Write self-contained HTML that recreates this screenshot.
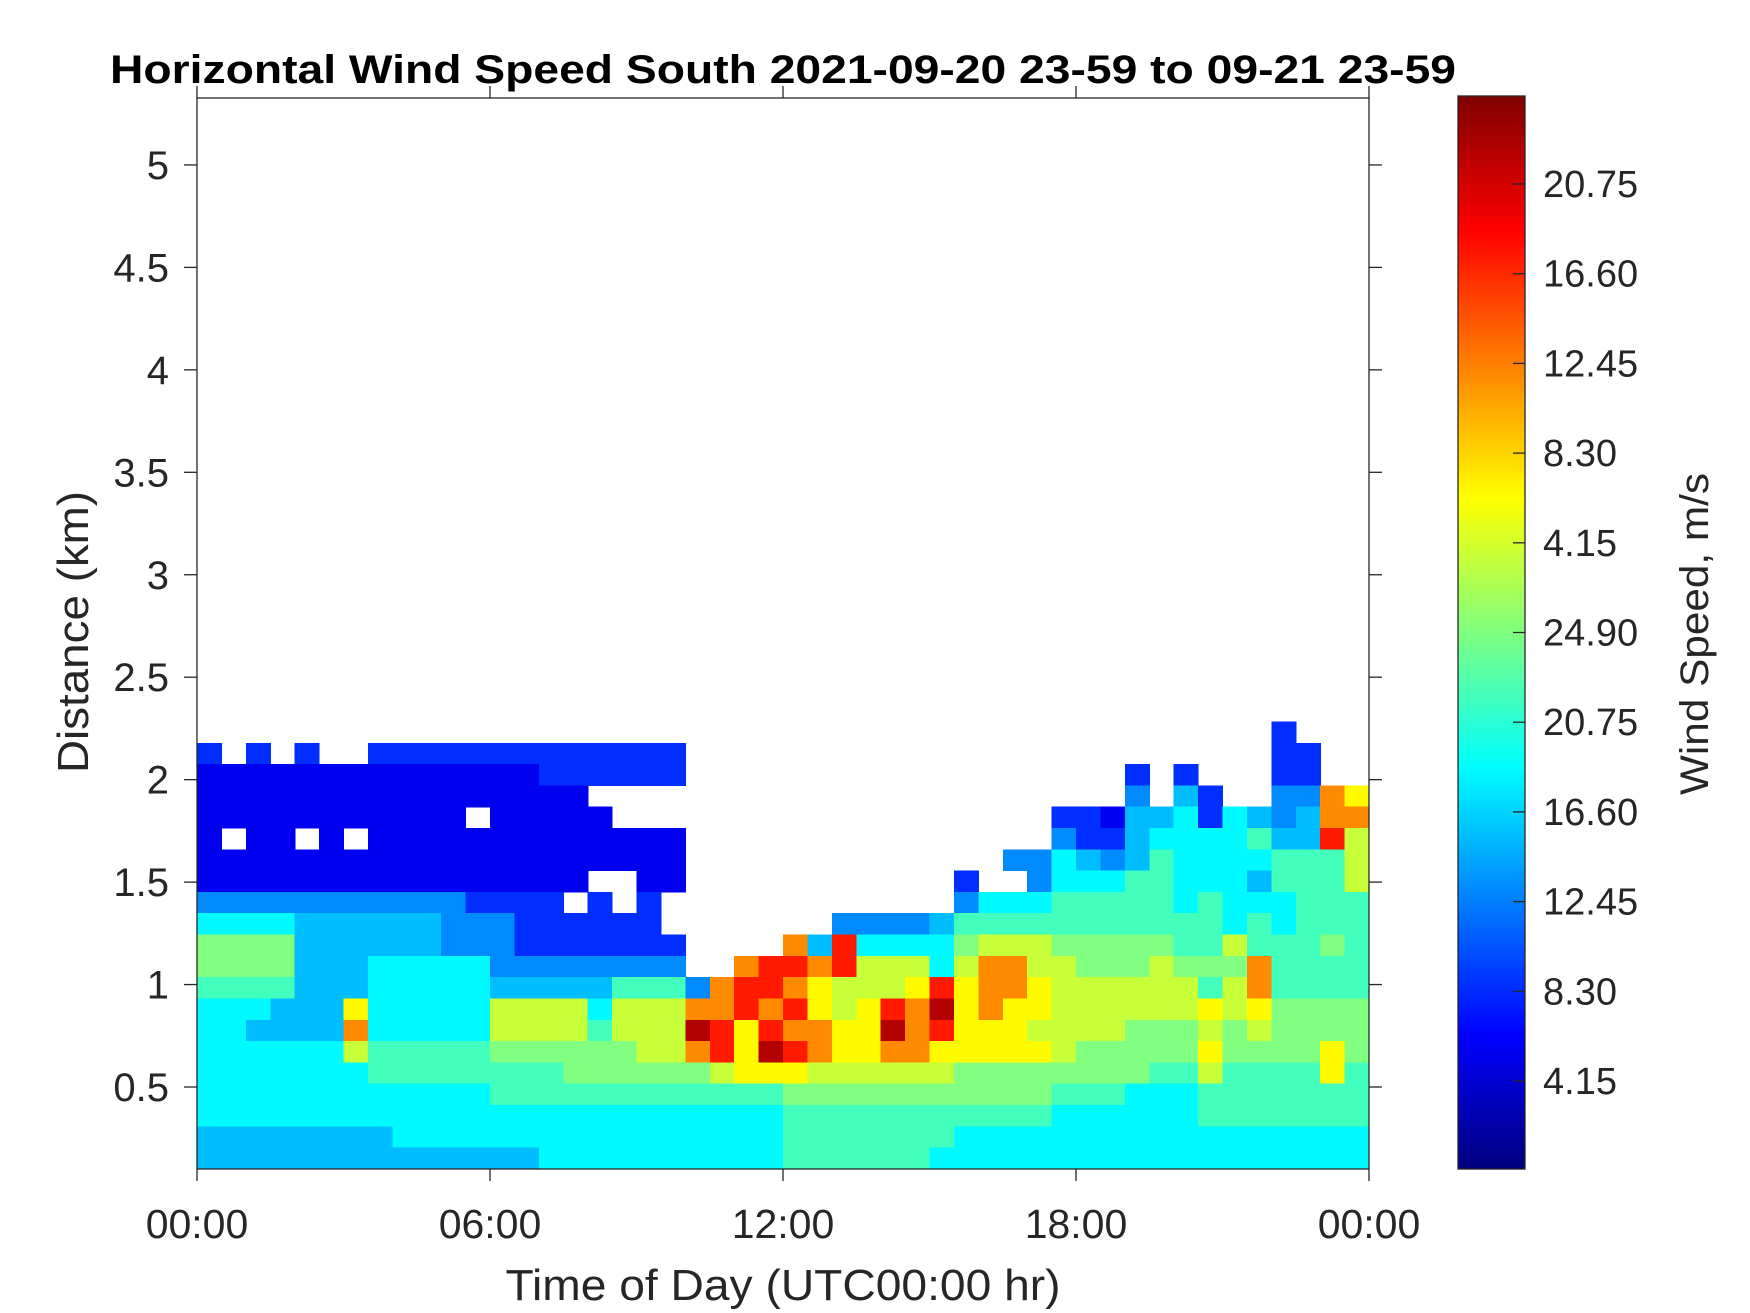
<!DOCTYPE html>
<html><head><meta charset="utf-8"><style>
html,body{margin:0;padding:0;background:#fff;}
svg{display:block;font-family:"Liberation Sans",Arial,sans-serif;}
</style></head><body>
<svg id="chart" width="1750" height="1313" viewBox="0 0 1750 1313" xmlns="http://www.w3.org/2000/svg">
<defs>
<linearGradient id="jet" x1="0" y1="1" x2="0" y2="0">
<stop offset="0" stop-color="#000080"/><stop offset="0.125" stop-color="#0000ff"/><stop offset="0.375" stop-color="#00ffff"/><stop offset="0.625" stop-color="#ffff00"/><stop offset="0.875" stop-color="#ff0000"/><stop offset="1" stop-color="#800000"/>
</linearGradient>
</defs>
<rect x="0" y="0" width="1750" height="1313" fill="#fff"/>
<text x="783" y="83" text-anchor="middle" font-size="40" font-weight="bold" textLength="1346" lengthAdjust="spacingAndGlyphs" fill="#000">Horizontal Wind Speed South 2021-09-20 23-59 to 09-21 23-59</text>
<g id="heat" shape-rendering="crispEdges"></g>
<g id="axes"></g>
<text x="783" y="1300" text-anchor="middle" font-size="44" textLength="555" lengthAdjust="spacingAndGlyphs" fill="#262626">Time of Day (UTC00:00 hr)</text>
<text transform="translate(88,632) rotate(-90)" text-anchor="middle" font-size="44" textLength="282" lengthAdjust="spacingAndGlyphs" fill="#262626">Distance (km)</text>
<rect x="1458" y="96" width="67" height="1073" fill="url(#jet)" stroke="#262626" stroke-width="1.3"/>
<g id="cbar"></g>
<text transform="translate(1708,634) rotate(-90)" text-anchor="middle" font-size="40" textLength="322" lengthAdjust="spacingAndGlyphs" fill="#262626">Wind Speed, m/s</text>
</svg>
<script>
// ---- data ----
const timeStartH = 0, timeStepH = 0.5;          // 48 columns of 30 min
const rowBottomKm = 0.1, rowStepKm = 0.104;     // 21 height bins
const levelKeys = "0123456789ab";
const levelValues = [0.11,0.17,0.26,0.31,0.37,0.44,0.50,0.57,0.63,0.74,0.85,0.95]; // normalized speed
// rows listed from top (highest) to bottom; '.' = no data; 48 columns each
const rows = [
".".repeat(44)+"1...",
"1.1.1.."+"1".repeat(13)+".".repeat(24)+"11..",
"0".repeat(14)+"1".repeat(6)+".".repeat(18)+"1.1..."+"11..",
"0".repeat(16)+".".repeat(22)+"2.31..2298",
"0".repeat(11)+"."+"0".repeat(5)+".".repeat(18)+"1103341432399",
"0.00.0."+"0".repeat(13)+".".repeat(15)+"21134444533a7",
"0".repeat(20)+".".repeat(13)+"224323544445557",
"0".repeat(16)+".."+"00"+".".repeat(11)+"1.."+"24445544435557",
"2".repeat(11)+"111"+"1.1.1"+".".repeat(12)+"24445555545444555",
"4444333333222111111"+".".repeat(7)+"2222355555555555454555",
"66663333332221111111...."+"93a444467776666655755565",
"6666333444442222222"+"2..9a"+"a9a777479977666766695555",
"5555333444443333355529aa"+"987778a89987777775795555",
"444333844444777747779 9a9".replace(" ","")+"a878a9b89887777778786666",
"4433339444447777577 7ba8a".replace(" ","")+"9988b9a88877776667676666",
"444444755555666666779a8b"+"a98899888887666668666686",
"444444455555555666666788"+"877777766666666557555585",
"4".repeat(12)+"5".repeat(12)+"6".repeat(11)+"555444"+"5".repeat(7),
"4".repeat(24)+"5".repeat(11)+"4".repeat(6)+"5".repeat(7),
"3".repeat(8)+"4".repeat(16)+"5".repeat(7)+"4".repeat(17),
"3".repeat(14)+"4".repeat(10)+"5".repeat(6)+"4".repeat(18)
];
const xTicks = [0,6,12,18,24];
const xTickLabels = ["00:00","06:00","12:00","18:00","00:00"];
const yTicks = [0.5,1,1.5,2,2.5,3,3.5,4,4.5,5];
const yTickLabels = ["0.5","1","1.5","2","2.5","3","3.5","4","4.5","5"];
const cbarTickLabels = ["20.75","16.60","12.45","8.30","4.15","24.90","20.75","16.60","12.45","8.30","4.15"];

// ---- scales ----
const X0=197, X1=1369, Y0=98, Y1=1169;
function xs(t){ return X0 + (t-0)/24*(X1-X0); }
function ys(d){ return 1087 - (d-0.5)*204.9; }
function jet(v){
  const c=x=>Math.max(0,Math.min(1,x));
  const r=c(1.5-Math.abs(4*v-3)), g=c(1.5-Math.abs(4*v-2)), b=c(1.5-Math.abs(4*v-1));
  return "rgb("+Math.round(r*255)+","+Math.round(g*255)+","+Math.round(b*255)+")";
}
const NS="http://www.w3.org/2000/svg";
function el(tag, attrs, parent){
  const e=document.createElementNS(NS,tag);
  for(const k in attrs) e.setAttribute(k,attrs[k]);
  parent.appendChild(e); return e;
}
// ---- heatmap ----
const heat=document.getElementById("heat");
const nRows=rows.length;
rows.forEach((row,ri)=>{
  const bin = nRows-1-ri;
  const dLo = rowBottomKm + bin*rowStepKm, dHi = dLo + rowStepKm;
  for(let ci=0; ci<48 && ci<row.length; ci++){
    const ch=row[ci]; const li=levelKeys.indexOf(ch);
    if(li<0) continue;
    const t0=timeStartH+ci*timeStepH, t1=t0+timeStepH;
    const x=xs(t0), w=xs(t1)-x;
    const yTop=Math.max(Y0,ys(dHi)), yBot=Math.min(Y1,ys(dLo));
    const r=el("rect",{x:x.toFixed(2),y:yTop.toFixed(2),width:(Math.min(w+0.6,X1-x)).toFixed(2),height:(Math.min(yBot-yTop+0.6,Y1-yTop)).toFixed(2),fill:jet(levelValues[li])},heat);
    
    
  }
});
// ---- axes ----
const ax=document.getElementById("axes");
const box=el("rect",{x:X0,y:Y0,width:X1-X0,height:Y1-Y0,fill:"none",stroke:"#262626","stroke-width":1.3},ax);


xTicks.forEach((t,i)=>{
  const x=xs(t);
  const tb=el("line",{x1:x,y1:Y1,x2:x,y2:Y1+12,stroke:"#262626","stroke-width":1.3},ax);
  
  
  const tt=el("line",{x1:x,y1:Y0,x2:x,y2:Y0-12,stroke:"#262626","stroke-width":1.3},ax);
  
  
  const lb=el("text",{x:x,y:1238,"text-anchor":"middle","font-size":41,fill:"#262626"},ax);
  lb.textContent=xTickLabels[i];
  
  
});
yTicks.forEach((d,i)=>{
  const y=ys(d);
  const tl=el("line",{x1:X0-13,y1:y,x2:X0,y2:y,stroke:"#262626","stroke-width":1.3},ax);
  
  
  const tr=el("line",{x1:X1,y1:y,x2:X1+13,y2:y,stroke:"#262626","stroke-width":1.3},ax);
  
  
  const lb=el("text",{x:169,y:y+14,"text-anchor":"end","font-size":40,fill:"#262626"},ax);
  lb.textContent=yTickLabels[i];
  
  
});
// ---- colorbar ticks ----
const cb=document.getElementById("cbar");
const cbTop=184, cbStep=89.7;
cbarTickLabels.forEach((s,i)=>{
  const y=cbTop+i*cbStep;
  const tk=el("line",{x1:1513,y1:y,x2:1525,y2:y,stroke:"#262626","stroke-width":1.3},cb);
  
  
  const lb=el("text",{x:1543,y:y+13,"font-size":38,fill:"#262626"},cb);
  lb.textContent=s;
  
  
});
</script>
</body></html>
